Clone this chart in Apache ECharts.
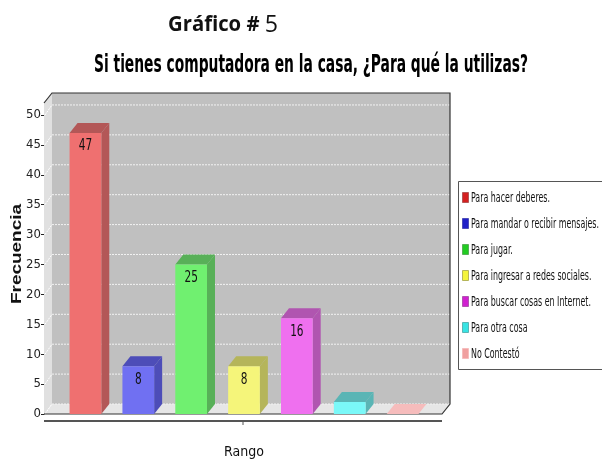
<!DOCTYPE html>
<html>
<head>
<meta charset="utf-8">
<script src="https://cdn.jsdelivr.net/npm/echarts@6/dist/echarts.min.js"></script>
<style>
  html, body { margin: 0; padding: 0; background: #fff; }
  #main { width: 602px; height: 459px; }
</style>
</head>
<body>
<div id="main"></div>
<script>
// categorias y valores
const categories = [
  'Para hacer deberes.',
  'Para mandar o recibir mensajes.',
  'Para jugar.',
  'Para ingresar a redes sociales.',
  'Para buscar cosas en Internet.',
  'Para otra cosa',
  'No Contestó'
];
const values = [47, 8, 25, 8, 16, 2, 0];
const yTicks = [0, 5, 10, 15, 20, 25, 30, 35, 40, 45, 50];

// colores: leyenda, cara frontal, lados
const legendColors = ['#d42020', '#2020c8', '#22cc22', '#f4f43a', '#d020d0', '#38e4e4', '#f0a0a0'];
const faceColors = ['#ef7070', '#7070f2', '#70f070', '#f5f57a', '#ef70ef', '#7af8f8', '#f6bcbc'];
const darkColors = ['#b35757', '#4d4db8', '#58b058', '#b5b55a', '#b055b0', '#5ab5b5', '#f6bcbc'];

const COND = '"DejaVu Sans Condensed", "DejaVu Sans", sans-serif';
const DX = 8, DY = 10; // profundidad 3D

// ancho de un texto para comprimirlo como en la imagen
const measureCtx = document.createElement('canvas').getContext('2d');
function textWidth(str, font) {
  measureCtx.font = font;
  return measureCtx.measureText(str).width;
}

let myChart = echarts.init(document.getElementById('main'));

// paredes y piso del grafico
function renderFrame(params, api) {
  const cs = params.coordSys;
  const L = cs.x - 15, R = cs.x + cs.width + 13;
  const T = cs.y, B = cs.y + cs.height;
  const kids = [];
  kids.push({ type: 'polygon', shape: { points: [[L, T], [L + DX, T - DY], [L + DX, B - DY], [L, B]] },
    style: { fill: '#e0e0e0' } });
  kids.push({ type: 'rect', shape: { x: L + DX, y: T - DY, width: R - L, height: B - T },
    style: { fill: '#c0c0c0' } });
  kids.push({ type: 'polygon', shape: { points: [[L, B], [R, B], [R + DX, B - DY], [L + DX, B - DY]] },
    style: { fill: '#e6e6e6' } });
  yTicks.forEach(function (v) {
    const y = api.coord([0, v])[1];
    kids.push({ type: 'line', shape: { x1: L + DX, y1: y - DY, x2: R + DX, y2: y - DY },
      style: { stroke: '#f2f2f2', lineWidth: 1, lineDash: [2, 1] } });
    kids.push({ type: 'line', shape: { x1: L + 1, y1: y, x2: L + DX, y2: y - DY },
      style: { stroke: '#ffffff', lineWidth: 1, lineDash: [2, 1] } });
  });
  kids.push({ type: 'polyline', shape: { points: [[L, T], [L + DX, T - DY], [R + DX, T - DY], [R + DX, B - DY], [R, B], [L, B]] },
    style: { stroke: '#333', lineWidth: 1.2, fill: null } });
  // eje inferior
  kids.push({ type: 'line', shape: { x1: L, y1: B + 7, x2: R, y2: B + 7 },
    style: { stroke: '#555', lineWidth: 2 } });
  kids.push({ type: 'line', shape: { x1: (L + R) / 2, y1: B + 8, x2: (L + R) / 2, y2: B + 11 },
    style: { stroke: '#555', lineWidth: 1 } });
  return { type: 'group', children: kids };
}

// barra 3D
const barFont = '15px ' + COND;
function makeBarRenderer(i) {
  return function (params, api) {
    const idx = api.value(0), val = api.value(1);
    const base = api.coord([idx, 0]);
    const top = api.coord([idx, val]);
    const w = api.size([1, 0])[0] * 0.6;
    const x0 = base[0] - w / 2, x1 = base[0] + w / 2;
    const y0 = top[1], yb = base[1];
    const kids = [
      { type: 'polygon', shape: { points: [[x1, y0], [x1 + DX, y0 - DY], [x1 + DX, yb - DY], [x1, yb]] },
        style: { fill: darkColors[i] } },
      { type: 'polygon', shape: { points: [[x0, y0], [x0 + DX, y0 - DY], [x1 + DX, y0 - DY], [x1, y0]] },
        style: { fill: darkColors[i] } },
      { type: 'rect', shape: { x: x0, y: y0, width: w, height: yb - y0 },
        style: { fill: faceColors[i] } }
    ];
    if (val > 5) {
      kids.push({ type: 'text', x: base[0], y: y0 + 6, scaleX: 0.78,
        style: { text: String(val), fill: '#111', font: barFont, align: 'center', verticalAlign: 'top' } });
    }
    return { type: 'group', children: kids };
  };
}

let series = [{
  name: 'marco',
  type: 'custom',
  silent: true,
  z: 1,
  renderItem: renderFrame,
  data: [[0, 0]]
}];
categories.forEach(function (name, i) {
  series.push({
    name: name,
    type: 'custom',
    z: 2,
    itemStyle: { color: legendColors[i] },
    renderItem: makeBarRenderer(i),
    data: [[i, values[i]]]
  });
});

// titulos, nombre del eje y leyenda (texto comprimido)
const t1Font = 'bold 21px "Open Sans", sans-serif';
const t1 = 'Gráfico # ';
const t1b = '5';
const t1bFont = '24px "Open Sans", sans-serif';
const t2Font = 'bold 25px ' + COND;
const t2 = 'Si tienes computadora en la casa, ¿Para qué la utilizas?';
const yNameFont = 'bold 14px "Liberation Sans", sans-serif';
const yName = 'Frecuencia';
const legFont = '14px ' + COND;
const legScale = 128 / Math.max.apply(null, categories.map(function (c) { return textWidth(c, legFont); }));
const t1Scale = 110 / (textWidth(t1, t1Font) + textWidth(t1b, t1bFont));

let graphics = [
  { type: 'text', x: 168, y: 25, scaleX: t1Scale,
    style: {
      text: '{a|' + t1 + '}{b|' + t1b + '}',
      fill: '#111', align: 'left', verticalAlign: 'middle',
      rich: {
        a: { font: t1Font, fill: '#111' },
        b: { font: t1bFont, fill: '#111' }
      }
    } },
  { type: 'text', x: 94, y: 65, scaleX: 434 / textWidth(t2, t2Font),
    style: { text: t2, font: t2Font, fill: '#000', align: 'left', verticalAlign: 'middle' } },
  { type: 'text', x: 17, y: 254, rotation: Math.PI / 2, scaleX: 100 / textWidth(yName, yNameFont),
    style: { text: yName, font: yNameFont, fill: '#111', align: 'center', verticalAlign: 'middle' } },
  { type: 'rect', shape: { x: 458.5, y: 181.5, width: 150, height: 188 },
    style: { fill: '#fff', stroke: '#555', lineWidth: 1 } }
];
categories.forEach(function (name, i) {
  const cy = 198 + 26 * i;
  graphics.push({ type: 'rect', shape: { x: 462.5, y: cy - 5.5, width: 6, height: 10 },
    style: { fill: legendColors[i], stroke: darkColors[i], lineWidth: 1 } });
  graphics.push({ type: 'text', x: 471, y: cy, scaleX: legScale,
    style: { text: name, font: legFont, fill: '#111', align: 'left', verticalAlign: 'middle' } });
});

let option = {
  animation: false,
  backgroundColor: '#fff',
  grid: { left: 59, width: 370, top: 103, bottom: 45, containLabel: false, outerBoundsMode: 'none' },
  xAxis: {
    type: 'category',
    data: categories,
    name: 'Rango',
    nameLocation: 'middle',
    nameGap: 31,
    nameTextStyle: { fontFamily: COND, fontSize: 14, color: '#111' },
    axisLine: { show: false },
    axisTick: { show: false },
    axisLabel: { show: false },
    splitLine: { show: false }
  },
  yAxis: {
    type: 'value',
    min: 0, max: 52, interval: 5,
    offset: 15,
    axisLine: { show: true, lineStyle: { color: '#222', width: 1 } },
    axisTick: { show: true, length: 3, lineStyle: { color: '#222' } },
    axisLabel: { showMaxLabel: false, margin: 3, fontFamily: COND, fontSize: 13, color: '#222' },
    splitLine: { show: false }
  },
  graphic: graphics,
  series: series
};
myChart.setOption(option);
</script>
</body>
</html>
